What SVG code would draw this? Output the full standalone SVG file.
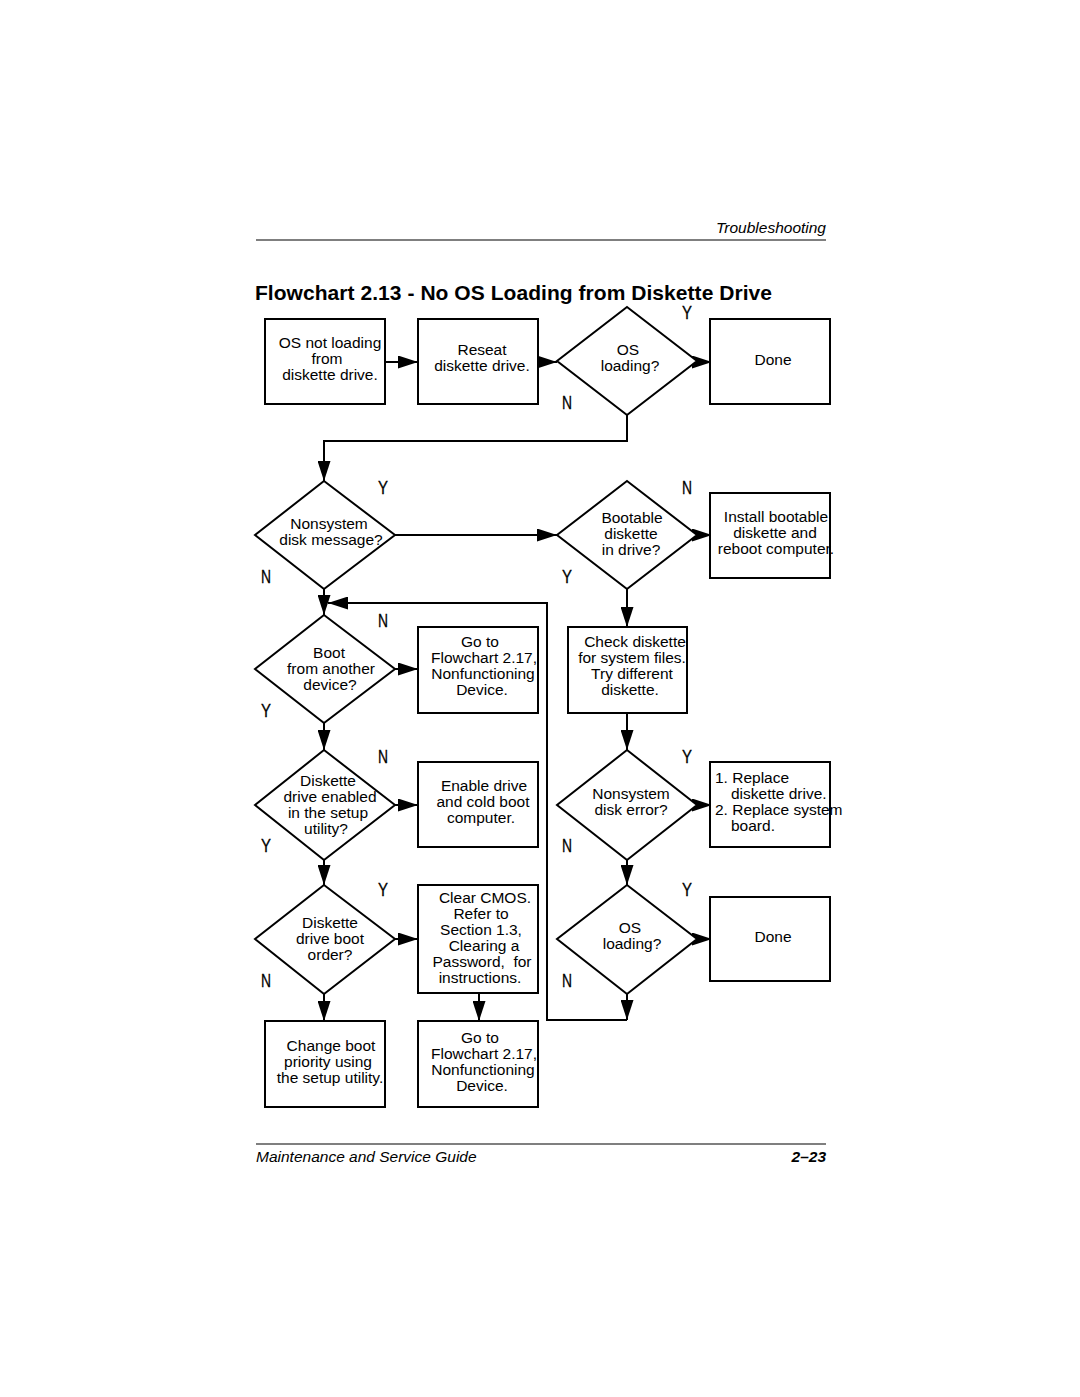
<svg xmlns="http://www.w3.org/2000/svg" width="1080" height="1397" viewBox="0 0 1080 1397">
<defs>
<marker id="ah" markerUnits="userSpaceOnUse" markerWidth="20" markerHeight="13" refX="20" refY="6.5" orient="auto">
<path d="M0,0 L20,6.5 L0,13 z" fill="#000"/>
</marker>
</defs>
<style>
.n{fill:#fff;stroke:#000;stroke-width:2}
.t{font-family:"Liberation Sans",Arial,sans-serif;font-size:15.5px;fill:#000;text-anchor:middle}
.l{font-family:"Liberation Sans",Arial,sans-serif;font-size:15.5px;fill:#000}
.yn{font-family:"Liberation Sans",Arial,sans-serif;font-size:18px;fill:#000;stroke:#000;stroke-width:0.3;text-anchor:middle}
.c{fill:none;stroke:#000;stroke-width:2;marker-end:url(#ah)}
</style>
<rect width="1080" height="1397" fill="#fff"/>
<g id="header">
<text x="826" y="233" font-family="Liberation Sans,Arial,sans-serif" font-size="15.5" font-style="italic" text-anchor="end">Troubleshooting</text>
<line x1="256" y1="240" x2="826" y2="240" stroke="#000" stroke-width="1.2"/>
<text x="255" y="300" font-family="Liberation Sans,Arial,sans-serif" font-size="21" font-weight="bold" textLength="517">Flowchart 2.13 - No OS Loading from Diskette Drive</text>
</g>
<g id="connectors">
<path class="c" d="M385,362 H418"/>
<path class="c" d="M538,362 H557"/>
<path class="c" d="M697,362 H712"/>
<path class="c" d="M627,415 V441 H324 V481"/>
<path class="c" d="M395,535 H557"/>
<path class="c" d="M697,535 H712"/>
<path class="c" d="M324,589 V615"/>
<path class="c" d="M627,589 V627"/>
<path class="c" d="M627,713 V750"/>
<path class="c" d="M697,805 H712"/>
<path class="c" d="M627,860 V885"/>
<path class="c" d="M697,939 H712"/>
<path class="c" d="M627,994 V1020"/>
<path class="c" d="M627,1020 H547 V603 H328"/>
<path class="c" d="M395,669 H418"/>
<path class="c" d="M324,723 V750"/>
<path class="c" d="M395,805 H418"/>
<path class="c" d="M324,860 V885"/>
<path class="c" d="M395,939 H418"/>
<path class="c" d="M479,993 V1021"/>
<path class="c" d="M324,994 V1021"/>
</g>
<g id="labels">
<text class="yn" x="687" y="319" textLength="10" lengthAdjust="spacingAndGlyphs">Y</text>
<text class="yn" x="567" y="409" textLength="10" lengthAdjust="spacingAndGlyphs">N</text>
<text class="yn" x="383" y="494" textLength="10" lengthAdjust="spacingAndGlyphs">Y</text>
<text class="yn" x="687" y="494" textLength="10" lengthAdjust="spacingAndGlyphs">N</text>
<text class="yn" x="266" y="583" textLength="10" lengthAdjust="spacingAndGlyphs">N</text>
<text class="yn" x="567" y="583" textLength="10" lengthAdjust="spacingAndGlyphs">Y</text>
<text class="yn" x="383" y="627" textLength="10" lengthAdjust="spacingAndGlyphs">N</text>
<text class="yn" x="266" y="717" textLength="10" lengthAdjust="spacingAndGlyphs">Y</text>
<text class="yn" x="383" y="763" textLength="10" lengthAdjust="spacingAndGlyphs">N</text>
<text class="yn" x="687" y="763" textLength="10" lengthAdjust="spacingAndGlyphs">Y</text>
<text class="yn" x="266" y="852" textLength="10" lengthAdjust="spacingAndGlyphs">Y</text>
<text class="yn" x="567" y="852" textLength="10" lengthAdjust="spacingAndGlyphs">N</text>
<text class="yn" x="383" y="896" textLength="10" lengthAdjust="spacingAndGlyphs">Y</text>
<text class="yn" x="687" y="896" textLength="10" lengthAdjust="spacingAndGlyphs">Y</text>
<text class="yn" x="266" y="987" textLength="10" lengthAdjust="spacingAndGlyphs">N</text>
<text class="yn" x="567" y="987" textLength="10" lengthAdjust="spacingAndGlyphs">N</text>
</g>
<g id="start">
<rect class="n" x="265" y="319" width="120" height="85"/>
<text class="t" x="330" y="348">OS not loading</text>
<text class="t" x="327" y="364">from</text>
<text class="t" x="330" y="380">diskette drive.</text>
</g>
<g id="reseat">
<rect class="n" x="418" y="319" width="120" height="85"/>
<text class="t" x="482" y="355">Reseat</text>
<text class="t" x="482" y="371">diskette drive.</text>
</g>
<g id="os_loading_1">
<path class="n" d="M627,307 L697,361 L627,415 L557,361 Z"/>
<text class="t" x="628" y="355">OS</text>
<text class="t" x="630" y="371">loading?</text>
</g>
<g id="done_1">
<rect class="n" x="710" y="319" width="120" height="85"/>
<text class="t" x="773" y="365">Done</text>
</g>
<g id="nonsystem_msg">
<path class="n" d="M324,481 L395,535 L324,589 L255,535 Z"/>
<text class="t" x="329" y="529">Nonsystem</text>
<text class="t" x="331" y="545">disk message?</text>
</g>
<g id="bootable">
<path class="n" d="M627,481 L697,535 L627,589 L557,535 Z"/>
<text class="t" x="632" y="523">Bootable</text>
<text class="t" x="631" y="539">diskette</text>
<text class="t" x="631" y="555">in drive?</text>
</g>
<g id="install">
<rect class="n" x="710" y="493" width="120" height="85"/>
<text class="t" x="776" y="522">Install bootable</text>
<text class="t" x="775" y="538">diskette and</text>
<text class="t" x="776" y="554">reboot computer.</text>
</g>
<g id="boot_other">
<path class="n" d="M324,615 L395,669 L324,723 L255,669 Z"/>
<text class="t" x="329" y="658">Boot</text>
<text class="t" x="331" y="674">from another</text>
<text class="t" x="330" y="690">device?</text>
</g>
<g id="goto_1">
<rect class="n" x="418" y="627" width="120" height="86"/>
<text class="t" x="480" y="647">Go to</text>
<text class="t" x="484" y="663">Flowchart 2.17,</text>
<text class="t" x="483" y="679">Nonfunctioning</text>
<text class="t" x="482" y="695">Device.</text>
</g>
<g id="check">
<rect class="n" x="568" y="627" width="119" height="86"/>
<text class="t" x="635" y="647">Check diskette</text>
<text class="t" x="632" y="663">for system files.</text>
<text class="t" x="632" y="679">Try different</text>
<text class="t" x="630" y="695">diskette.</text>
</g>
<g id="drive_enabled">
<path class="n" d="M324,750 L395,805 L324,860 L255,805 Z"/>
<text class="t" x="328" y="786">Diskette</text>
<text class="t" x="330" y="802">drive enabled</text>
<text class="t" x="328" y="818">in the setup</text>
<text class="t" x="326" y="834">utility?</text>
</g>
<g id="enable">
<rect class="n" x="418" y="762" width="120" height="85"/>
<text class="t" x="484" y="791">Enable drive</text>
<text class="t" x="483" y="807">and cold boot</text>
<text class="t" x="481" y="823">computer.</text>
</g>
<g id="disk_error">
<path class="n" d="M627,750 L697,805 L627,860 L557,805 Z"/>
<text class="t" x="631" y="799">Nonsystem</text>
<text class="t" x="631" y="815">disk error?</text>
</g>
<g id="replace">
<rect class="n" x="710" y="762" width="120" height="85"/>
<text class="l" x="715" y="783">1. Replace</text>
<text class="l" x="731" y="799">diskette drive.</text>
<text class="l" x="715" y="815">2. Replace system</text>
<text class="l" x="731" y="831">board.</text>
</g>
<g id="boot_order">
<path class="n" d="M324,885 L395,939 L324,994 L255,939 Z"/>
<text class="t" x="330" y="928">Diskette</text>
<text class="t" x="330" y="944">drive boot</text>
<text class="t" x="330" y="960">order?</text>
</g>
<g id="clear_cmos">
<rect class="n" x="418" y="885" width="120" height="108"/>
<text class="t" x="485" y="903">Clear CMOS.</text>
<text class="t" x="481" y="919">Refer to</text>
<text class="t" x="481" y="935">Section 1.3,</text>
<text class="t" x="484" y="951">Clearing a</text>
<text class="t" x="482" y="967" xml:space="preserve">Password,  for</text>
<text class="t" x="480" y="983">instructions.</text>
</g>
<g id="os_loading_2">
<path class="n" d="M627,885 L697,939 L627,994 L557,939 Z"/>
<text class="t" x="630" y="933">OS</text>
<text class="t" x="632" y="949">loading?</text>
</g>
<g id="done_2">
<rect class="n" x="710" y="897" width="120" height="84"/>
<text class="t" x="773" y="942">Done</text>
</g>
<g id="change_boot">
<rect class="n" x="265" y="1021" width="120" height="86"/>
<text class="t" x="331" y="1051">Change boot</text>
<text class="t" x="328" y="1067">priority using</text>
<text class="t" x="330" y="1083">the setup utility.</text>
</g>
<g id="goto_2">
<rect class="n" x="418" y="1021" width="120" height="86"/>
<text class="t" x="480" y="1043">Go to</text>
<text class="t" x="484" y="1059">Flowchart 2.17,</text>
<text class="t" x="483" y="1075">Nonfunctioning</text>
<text class="t" x="482" y="1091">Device.</text>
</g>
<g id="footer">
<line x1="256" y1="1144" x2="826" y2="1144" stroke="#000" stroke-width="1.2"/>
<text x="256" y="1162" font-family="Liberation Sans,Arial,sans-serif" font-size="15.5" font-style="italic">Maintenance and Service Guide</text>
<text x="826" y="1162" font-family="Liberation Sans,Arial,sans-serif" font-size="15.5" font-style="italic" font-weight="bold" text-anchor="end">2–23</text>
</g>
</svg>
